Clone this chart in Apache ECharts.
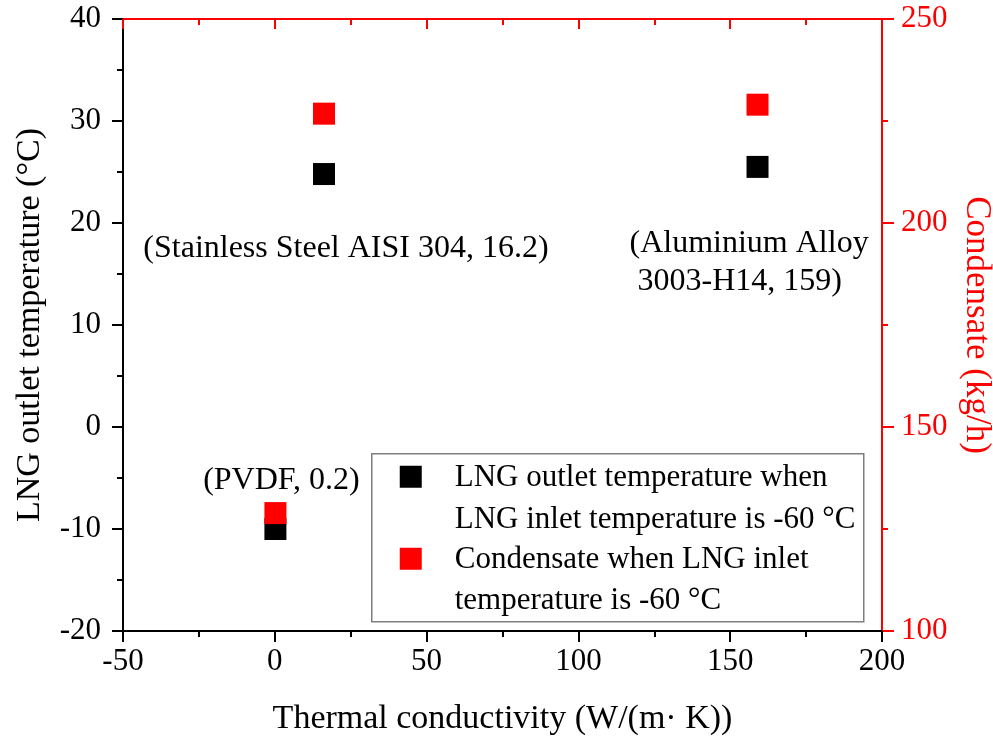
<!DOCTYPE html>
<html>
<head>
<meta charset="utf-8">
<script src="https://cdn.jsdelivr.net/npm/echarts@6/dist/echarts.min.js"></script>
<style>
html,body{margin:0;padding:0;background:#fff;}
#chart{width:993px;height:746px;}
</style>
</head>
<body>
<div id="chart"></div>
<script>
// ---- data ----
const conductivity = [0.2, 16.2, 159];
const outletTemp = [-10.0, 24.8, 25.5];
const condensate = [128.9, 226.8, 229.0];
const materialLabels = ['(PVDF, 0.2)', '(Stainless Steel AISI 304, 16.2)', '(Aluminium Alloy\n 3003-H14, 159)'];
const seriesNames = ['LNG outlet temperature when LNG inlet temperature is -60 °C', 'Condensate when LNG inlet temperature is -60 °C'];
const xTicks = [-50, 0, 50, 100, 150, 200];
const yLeftTicks = [-20, -10, 0, 10, 20, 30, 40];
const yRightTicks = [100, 150, 200, 250];

// label placement (styling only)
const labelStyles = [
  {offset: [6, -48], align: 'center'},
  {offset: [22, 75], align: 'center'},
  {offset: [-128, 96], align: 'left'}
];

const FONT = '"Liberation Serif", "Times New Roman", serif';
const RED = '#ff0000';

const chart = echarts.init(document.getElementById('chart'));

const blackData = conductivity.map((x, i) => ({
  value: [x, outletTemp[i]],
  label: {
    show: true,
    position: 'inside',
    formatter: materialLabels[i],
    offset: labelStyles[i].offset,
    align: labelStyles[i].align,
    verticalAlign: 'middle',
    color: '#000',
    fontFamily: FONT,
    fontSize: 32,
    lineHeight: 38
  }
}));
const redData = conductivity.map((x, i) => [x, condensate[i]]);

const option = {
  backgroundColor: '#fff',
  animation: false,
  grid: {left: 123, right: 111, top: 19, bottom: 115, outerBoundsMode: 'none'},
  xAxis: [
    {
      type: 'value', position: 'bottom', min: xTicks[0], max: xTicks[xTicks.length - 1], interval: 50,
      name: 'Thermal conductivity (W/(m\u00b7 K))', nameLocation: 'middle', nameGap: 71,
      nameTextStyle: {fontFamily: FONT, fontSize: 34, color: '#000'},
      axisLine: {show: true, onZero: false, lineStyle: {color: '#000', width: 2}},
      axisTick: {show: true, length: 11, lineStyle: {color: '#000', width: 2}},
      minorTick: {show: true, splitNumber: 2, length: 6, lineStyle: {color: '#000', width: 2}},
      axisLabel: {fontFamily: FONT, fontSize: 31, color: '#000', margin: 15},
      splitLine: {show: false}
    },
    {
      type: 'value', position: 'top', min: xTicks[0], max: xTicks[xTicks.length - 1], interval: 50,
      axisLine: {show: true, onZero: false, lineStyle: {color: RED, width: 2}},
      axisTick: {show: true, inside: true, length: 10, lineStyle: {color: RED, width: 2}},
      minorTick: {show: true, splitNumber: 2, length: 6, lineStyle: {color: RED, width: 2}},
      axisLabel: {show: false},
      splitLine: {show: false}
    }
  ],
  yAxis: [
    {
      type: 'value', position: 'left', min: yLeftTicks[0], max: yLeftTicks[yLeftTicks.length - 1], interval: 10,
      name: 'LNG outlet temperature (°C)', nameLocation: 'middle', nameGap: 76,
      nameTextStyle: {fontFamily: FONT, fontSize: 34, color: '#000'},
      axisLine: {show: true, onZero: false, lineStyle: {color: '#000', width: 2}},
      axisTick: {show: true, length: 11, lineStyle: {color: '#000', width: 2}},
      minorTick: {show: true, splitNumber: 2, length: 6, lineStyle: {color: '#000', width: 2}},
      axisLabel: {fontFamily: FONT, fontSize: 31, color: '#000', margin: 22},
      splitLine: {show: false}
    },
    {
      type: 'value', position: 'right', min: yRightTicks[0], max: yRightTicks[yRightTicks.length - 1], interval: 50,
      name: 'Condensate (kg/h)', nameLocation: 'middle', nameGap: 72, nameRotate: -90,
      nameTextStyle: {fontFamily: FONT, fontSize: 35, color: RED},
      axisLine: {show: true, onZero: false, lineStyle: {color: RED, width: 2}},
      axisTick: {show: true, length: 12, lineStyle: {color: RED, width: 2}},
      minorTick: {show: true, splitNumber: 2, length: 6, lineStyle: {color: RED, width: 2}},
      axisLabel: {fontFamily: FONT, fontSize: 31, color: RED, margin: 19},
      splitLine: {show: false}
    }
  ],
  series: [
    {
      name: seriesNames[0], type: 'scatter', xAxisIndex: 0, yAxisIndex: 0,
      symbol: 'rect', symbolSize: 22, itemStyle: {color: '#000', opacity: 1},
      data: blackData, z: 2
    },
    {
      name: seriesNames[1], type: 'scatter', xAxisIndex: 0, yAxisIndex: 1,
      symbol: 'rect', symbolSize: 22, itemStyle: {color: RED, opacity: 1},
      data: redData, z: 3
    }
  ],
  graphic: [
    {
      type: 'group', left: 371, top: 453,
      children: [
        {type: 'rect', shape: {x: 0, y: 0, width: 492, height: 168}, style: {fill: '#fff', stroke: '#7f7f7f', lineWidth: 1.5}},
        {type: 'rect', shape: {x: 28, y: 12, width: 22, height: 22}, style: {fill: '#000'}},
        {type: 'rect', shape: {x: 28, y: 94, width: 22, height: 22}, style: {fill: RED}},
        {type: 'text', x: 83, y: 24, style: {text: 'LNG outlet temperature when', fontFamily: FONT, fontSize: 31, fill: '#000', verticalAlign: 'middle'}},
        {type: 'text', x: 83, y: 66, style: {text: 'LNG inlet temperature is -60 °C', fontFamily: FONT, fontSize: 31, fill: '#000', verticalAlign: 'middle'}},
        {type: 'text', x: 83, y: 106, style: {text: 'Condensate when LNG inlet', fontFamily: FONT, fontSize: 31, fill: '#000', verticalAlign: 'middle'}},
        {type: 'text', x: 83, y: 147, style: {text: 'temperature is -60 °C', fontFamily: FONT, fontSize: 31, fill: '#000', verticalAlign: 'middle'}}
      ]
    }
  ]
};
chart.setOption(option);
</script>
</body>
</html>
